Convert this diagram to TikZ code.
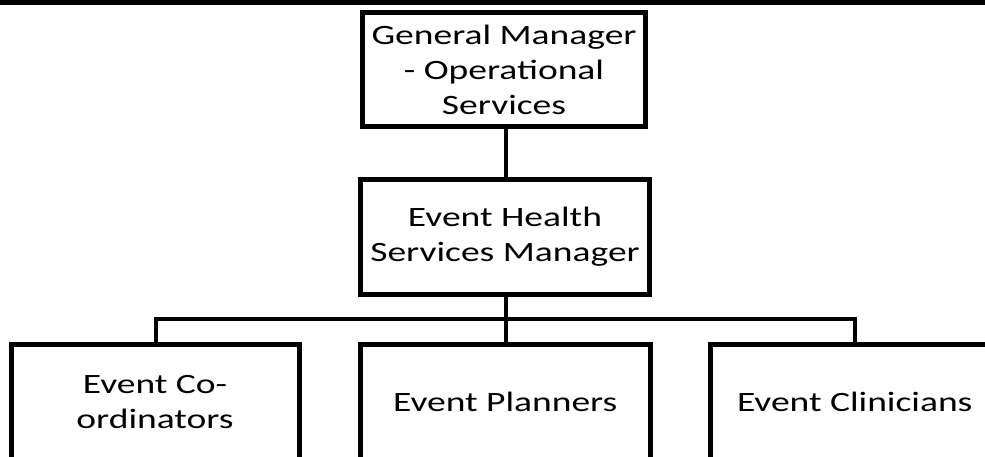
\documentclass[tikz,border=0pt]{standalone}
\usepackage{fontspec}
\setmainfont{Carlito}[FakeStretch=1.34]
\begin{document}
\begin{tikzpicture}[x=1pt,y=-1pt,
  box/.style={draw=black,line width=5pt,rectangle,inner sep=0pt,align=center,
    font=\fontsize{28}{35}\selectfont},
  link/.style={draw=black,line width=4.5pt}]
\clip (0,0) rectangle (985,456);
\fill[white] (0,0) rectangle (985,456);
\fill[black] (0,0) rectangle (985,5);
\node[box,minimum width=283pt,minimum height=114pt] (gm) at (504,69.5) {General Manager\\- Operational\\Services};
\node[box,minimum width=289pt,minimum height=115pt] (ehs) at (505,237) {Event Health\\Services Manager};
\node[box,minimum width=288pt,minimum height=115.5pt] (co) at (155,402.25) {Event Co-\\ordinators};
\node[box,minimum width=289.5pt,minimum height=115.5pt] (pl) at (505.25,402.25) {Event Planners};
\node[box,minimum width=288.5pt,minimum height=115.5pt] (cl) at (854.75,402.25) {Event Clinicians};
\coordinate (vx) at (506,0);
\coordinate (bl) at (156,319);
\coordinate (br) at (855,319);
\draw[link] (gm.south -| vx) -- (ehs.north -| vx);
\draw[link] (ehs.south -| vx) -- (pl.north -| vx);
\draw[link] (co.north -| bl) -- (bl) -- (br) -- (cl.north -| br);
\end{tikzpicture}
\end{document}
